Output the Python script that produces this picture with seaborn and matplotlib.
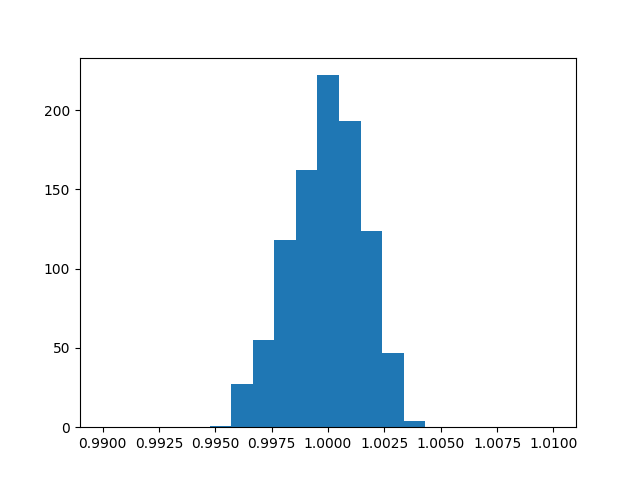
import matplotlib
matplotlib.use("Agg")
import matplotlib.pyplot as plt
import seaborn as sns
import numpy as np
import pandas as pd

bin_edges = [0.99475, 0.99571, 0.99666, 0.99762, 0.99858, 0.99953,
             1.00049, 1.00145, 1.00240, 1.00336, 1.00432]
counts = [1, 27, 55, 118, 162, 222, 193, 124, 47, 4]
x_ticks = [0.9900, 0.9925, 0.9950, 0.9975, 1.0000, 1.0025, 1.0050, 1.0075, 1.0100]

centers = [(a + b) / 2 for a, b in zip(bin_edges[:-1], bin_edges[1:])]
df = pd.DataFrame({"value": centers, "count": counts})

fig, ax = plt.subplots(figsize=(6.4, 4.8), dpi=100)
sns.histplot(data=df, x="value", weights="count", bins=bin_edges,
             color="#1f77b4", alpha=1.0, linewidth=0, edgecolor="none", ax=ax)
ax.set_xlim(0.989, 1.011)
ax.set_xticks(x_ticks)
ax.set_xticklabels([f"{t:.4f}" for t in x_ticks])
ax.set_ylim(0, max(counts) * 1.05)
ax.set_xlabel("")
ax.set_ylabel("")
fig.savefig("out.png", dpi=100)
